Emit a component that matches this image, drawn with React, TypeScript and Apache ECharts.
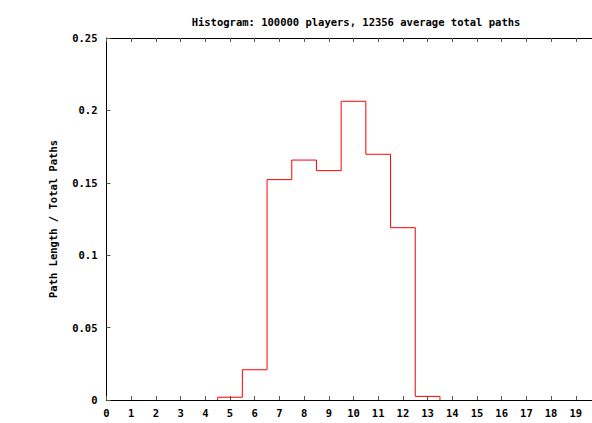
import React, { useEffect, useRef } from "react";
import * as echarts from "echarts";

const titleText = "Histogram: 100000 players, 12356 average total paths";
const yAxisName = "Path Length / Total Paths";
const binCenters = [5, 6, 7, 8, 9, 10, 11, 12, 13];
const binValues = [0.0019, 0.0209, 0.1522, 0.1657, 0.1584, 0.2063, 0.1697, 0.119, 0.0025];
const xMin = 0;
const xMax = 20;
const yMin = 0;
const yMax = 0.25;

const FONT = "'DejaVu Sans Mono', 'Liberation Mono', monospace";

export default function App() {
  const ref = useRef<HTMLDivElement>(null);
  useEffect(() => {
    document.body.style.margin = "0";
    document.body.style.overflow = "hidden";
    if (!ref.current) return;
    const chart = echarts.init(ref.current, undefined, { renderer: "svg" });
    const stepData: number[][] = [[binCenters[0] - 0.5, 0]];
    binCenters.forEach((c, i) => stepData.push([c - 0.5, binValues[i]]));
    stepData.push([binCenters[binCenters.length - 1] + 0.5, 0]);
    chart.setOption({
      animation: false,
      backgroundColor: "#ffffff",
      title: {
        text: titleText,
        left: 351,
        top: 11,
        textAlign: "center",
        textStyle: { fontFamily: FONT, fontWeight: "bold", fontSize: 10.5, color: "#000" },
      },
      grid: { left: 106.5, top: 38, right: 9.5, bottom: 23, containLabel: false },
      xAxis: [
        {
          type: "value",
          min: xMin,
          max: xMax,
          interval: 1,
          position: "bottom",
          axisLine: { show: true, onZero: false, lineStyle: { color: "#000", width: 1 } },
          axisTick: { show: true, inside: true, length: 4, lineStyle: { color: "#555" } },
          axisLabel: {
            fontFamily: FONT,
            fontWeight: "bold",
            fontSize: 10.5,
            color: "#000",
            margin: 7,
            showMaxLabel: false,
            formatter: (v: number) => (v >= xMax ? "" : String(v)),
          },
          splitLine: { show: false },
        },
        {
          type: "value",
          min: xMin,
          max: xMax,
          interval: 1,
          position: "top",
          axisLine: { show: true, onZero: false, lineStyle: { color: "#000", width: 1 } },
          axisTick: { show: true, inside: true, length: 4, lineStyle: { color: "#555" } },
          axisLabel: { show: false },
          splitLine: { show: false },
        },
      ],
      yAxis: {
        type: "value",
        min: yMin,
        max: yMax,
        interval: 0.05,
        name: yAxisName,
        nameLocation: "middle",
        nameGap: 48,
        nameTextStyle: { fontFamily: FONT, fontWeight: "bold", fontSize: 10.5, color: "#000" },
        axisLine: { show: true, lineStyle: { color: "#000", width: 1 } },
        axisTick: { show: true, inside: true, length: 4, lineStyle: { color: "#555" } },
        axisLabel: { fontFamily: FONT, fontWeight: "bold", fontSize: 10.5, color: "#000", margin: 9 },
        splitLine: { show: false },
      },
      series: [
        {
          type: "line",
          step: "end",
          data: stepData,
          symbol: "none",
          lineStyle: { color: "#ff0000", width: 1 },
          itemStyle: { color: "#ff0000" },
          xAxisIndex: 0,
        },
      ],
    });
    return () => chart.dispose();
  }, []);
  return (
    <div style={{ width: 592, height: 423, overflow: "hidden", position: "relative" }}>
      <div ref={ref} style={{ width: 610, height: 423, position: "absolute", left: 0, top: 0 }} />
    </div>
  );
}
